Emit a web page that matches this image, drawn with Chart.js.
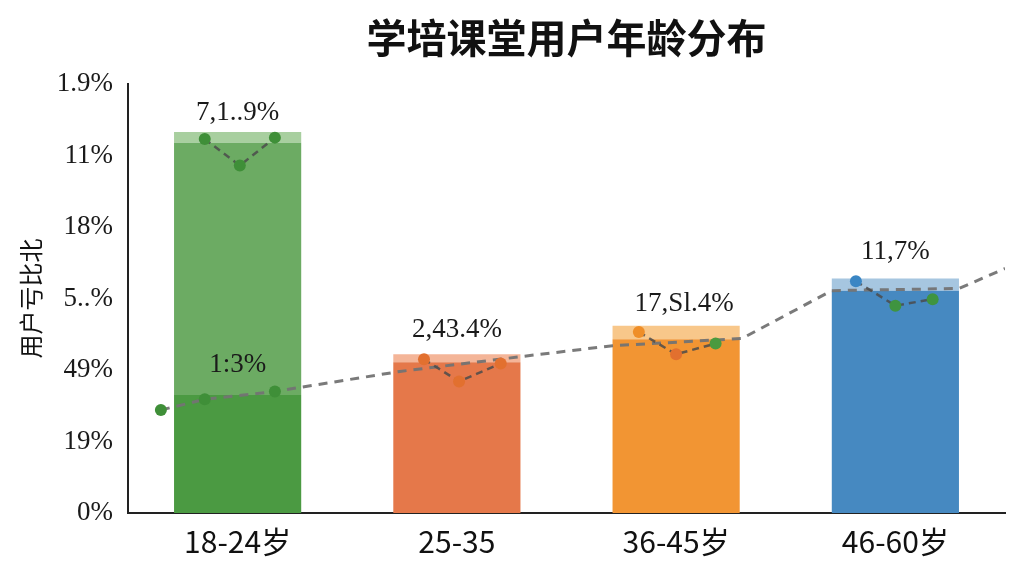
<!DOCTYPE html>
<html><head><meta charset="utf-8">
<script src="https://cdn.jsdelivr.net/npm/chart.js@4"></script>
<style>html,body{margin:0;padding:0;background:#fff}#wrap{width:1024px;height:576px}</style>
</head><body><div id="wrap"><canvas id="c" width="1024" height="576"></canvas></div>
<script>
const categories = ["18-24岁", "25-35", "36-45岁", "46-60岁"];
const yTickLabels = ["0%", "19%", "49%", "5..%", "18%", "11%", "1.9%"];
const baseSeg = [1.65, 2.11, 2.43, 3.11];
const midSeg = [3.53, 0, 0, 0];
const bandSeg = [0.15, 0.11, 0.19, 0.17];
const barLabels = ["7,1..9%", "2,43.4%", "17,Sl.4%", "11,7%"];
const innerLabel = "1:3%";
const trendX = [-0.35, -0.15, 0.17, 0.74, 1.30, 1.71, 2.30, 2.71, 3.29, 3.5];
const trendY = [1.44, 1.59, 1.70, 1.98, 2.19, 2.34, 2.44, 3.11, 3.14, 3.42];
const zz1X = [-0.15, 0.01, 0.17], zz1Y = [5.23, 4.86, 5.25];
const zz2X = [0.85, 1.01, 1.20], zz2Y = [2.15, 1.84, 2.09];
const zz3X = [1.83, 2.00, 2.18], zz3Y = [2.53, 2.22, 2.37];
const zz4X = [2.82, 3.00, 3.17], zz4Y = [3.24, 2.90, 2.99];

const pts = (xs, ys) => xs.map((x, i) => ({x: x, y: ys[i]}));
const GREEN = '#3f8f38', ORANGE = '#e2702f', ORANGE2 = '#ef8e28', BLUE = '#3a86c4';

function zig(xs, ys, colors) {
  return {type: 'line', xAxisID: 'x2', yAxisID: 'y2', data: pts(xs, ys), borderColor: 'rgba(75,75,75,0.85)',
    borderWidth: 2.5, borderDash: [7, 5], pointRadius: 6, pointBorderWidth: 0,
    pointBackgroundColor: colors, fill: false, tension: 0, order: 0};
}

const labelPlugin = {
  id: 'barLabels',
  afterDatasetsDraw(chart) {
    const ctx = chart.ctx, xs = chart.scales.x, ys = chart.scales.y;
    ctx.save();
    ctx.font = '27px "Liberation Serif", "DejaVu Serif", serif';
    ctx.fillStyle = '#1a1a1a';
    ctx.textAlign = 'center';
    ctx.textBaseline = 'middle';
    const dx = [0, 0, 8, 0];
    const off = [19, 24, 22, 27];
    barLabels.forEach((t, i) => {
      const top = baseSeg[i] + midSeg[i] + bandSeg[i];
      ctx.fillText(t, xs.getPixelForValue(i) + dx[i], ys.getPixelForValue(top) - off[i]);
    });
    ctx.fillText(innerLabel, xs.getPixelForValue(0), ys.getPixelForValue(baseSeg[0]) - 30);
    ctx.restore();
  }
};

const barCommon = {stack: 's', order: 2, grouped: false, barPercentage: 0.58, categoryPercentage: 1};

new Chart(document.getElementById('c'), {
  type: 'bar',
  data: {
    labels: categories,
    datasets: [
      Object.assign({label: 'base', data: baseSeg,
       backgroundColor: ['#4b9a42', '#e5784a', '#f29533', '#4689c1']}, barCommon),
      Object.assign({label: 'mid', data: midSeg,
       backgroundColor: ['#6cab63', '#e5784a', '#f29533', '#4689c1']}, barCommon),
      Object.assign({label: 'band', data: bandSeg,
       backgroundColor: ['#a8cf9f', '#f4b598', '#f8c78a', '#a6c6e0']}, barCommon),
      {type: 'line', xAxisID: 'x2', yAxisID: 'y2', data: pts(trendX, trendY), borderColor: 'rgba(115,115,115,0.95)',
       borderWidth: 3, borderDash: [9, 7], pointRadius: [6, 6, 6, 0, 0, 0, 0, 0, 0, 0], pointBorderWidth: 0,
       pointBackgroundColor: GREEN, fill: false, tension: 0, order: 1},
      zig(zz1X, zz1Y, [GREEN, GREEN, GREEN]),
      zig(zz2X, zz2Y, [ORANGE, ORANGE, ORANGE]),
      zig(zz3X, zz3Y, [ORANGE2, ORANGE, '#4a9a3f']),
      zig(zz4X, zz4Y, [BLUE, '#3f9440', '#3f9440'])
    ]
  },
  options: {
    responsive: false, animation: false,
    layout: {padding: {left: 16, right: 19, top: 0, bottom: 14}},
    plugins: {
      legend: {display: false}, tooltip: {enabled: false},
      title: {display: true, text: '学培课堂用户年龄分布', fullSize: false, color: '#111',
        font: {size: 40, weight: 'bold', family: '"Noto Sans CJK SC", sans-serif'},
        padding: {top: 14, bottom: 22}}
    },
    scales: {
      x: {
        stacked: true, offset: true,
        grid: {display: false, drawTicks: true, tickLength: 9, tickColor: '#222'},
        border: {display: true, color: '#222', width: 2},
        ticks: {color: '#111', padding: 2, font: {size: 30, family: '"Noto Sans CJK SC", sans-serif'}}
      },
      x2: {type: 'linear', display: false, offset: false, min: -0.5, max: 3.5},
      y2: {type: 'linear', display: false, offset: false, min: 0, max: 6},
      y: {
        stacked: true, min: 0, max: 6,
        afterFit(s) { s.width = 112; },
        grid: {display: false, drawTicks: true, tickLength: 10, tickColor: '#222'},
        border: {display: true, color: '#222', width: 2},
        ticks: {stepSize: 1, padding: 5, color: '#1a1a1a',
          font: {size: 27, family: '"Liberation Serif", "DejaVu Serif", serif'},
          callback: (v) => yTickLabels[Math.round(v)]},
        title: {display: true, text: '用户亏比北', color: '#111', padding: {top: 0, bottom: 4},
          font: {size: 24, family: '"Noto Sans CJK SC", sans-serif'}}
      }
    }
  },
  plugins: [labelPlugin]
});
</script></body></html>
